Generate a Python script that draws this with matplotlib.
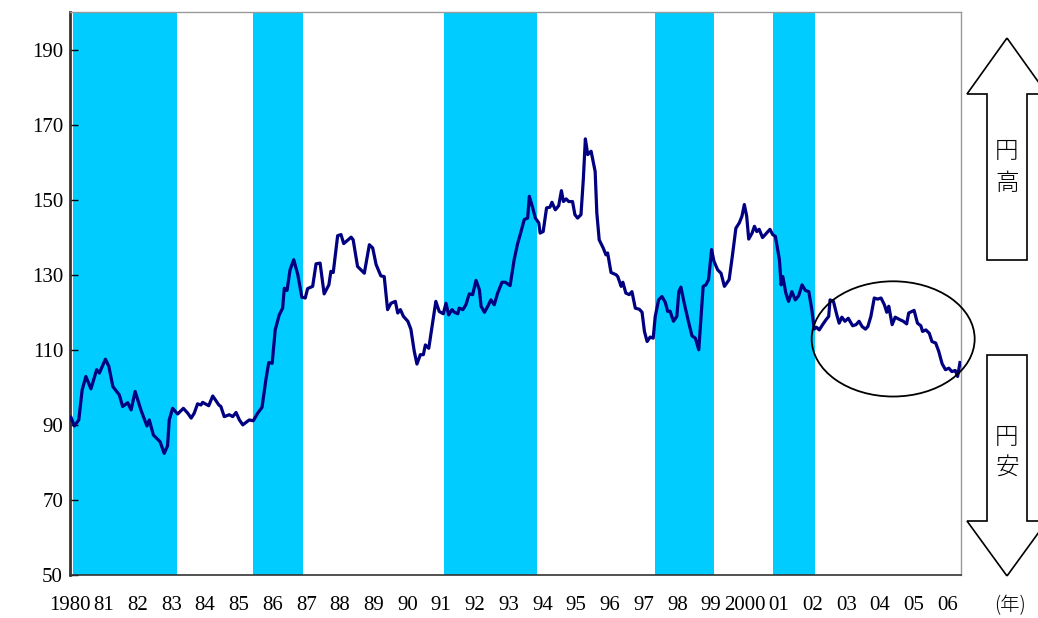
import matplotlib
matplotlib.use('Agg')
import matplotlib.pyplot as plt
from matplotlib.patches import Ellipse, Polygon

# yen index (decimal year, value)
years = [1980.03, 1980.13, 1980.26, 1980.36, 1980.47, 1980.62, 1980.79, 1980.87,
         1981.05, 1981.15, 1981.27, 1981.46, 1981.56, 1981.71, 1981.81, 1981.93,
         1982.10, 1982.28, 1982.35, 1982.47, 1982.67, 1982.79, 1982.89, 1982.94,
         1983.04, 1983.19, 1983.36, 1983.49, 1983.59, 1983.68, 1983.78, 1983.88, 1983.93,
         1984.11, 1984.23, 1984.41, 1984.47, 1984.57, 1984.72, 1984.82, 1984.92,
         1985.02, 1985.12, 1985.31, 1985.43, 1985.56, 1985.69, 1985.81, 1985.89, 1985.99,
         1986.08, 1986.20, 1986.30, 1986.35, 1986.43, 1986.52, 1986.63, 1986.75, 1986.87, 1986.97,
         1987.04, 1987.19, 1987.29, 1987.41, 1987.53, 1987.67, 1987.73, 1987.80, 1987.93,
         1988.03, 1988.11, 1988.33, 1988.39, 1988.52, 1988.72, 1988.87, 1988.97,
         1989.07, 1989.21, 1989.31, 1989.41, 1989.51, 1989.64, 1989.71, 1989.79, 1989.88,
         1990.01, 1990.10, 1990.20, 1990.28, 1990.38, 1990.47, 1990.53, 1990.63, 1990.75, 1990.84, 1990.94,
         1991.06, 1991.14, 1991.22, 1991.32, 1991.39, 1991.49, 1991.53, 1991.64, 1991.73, 1991.83, 1991.93,
         1992.03, 1992.13, 1992.18, 1992.28, 1992.38, 1992.47, 1992.57, 1992.67, 1992.80, 1992.90,
         1993.04, 1993.16, 1993.26, 1993.33, 1993.46, 1993.56, 1993.61, 1993.71, 1993.79, 1993.89, 1993.93,
         1994.02, 1994.12, 1994.22, 1994.28, 1994.38, 1994.48, 1994.56, 1994.62, 1994.70, 1994.78, 1994.89, 1994.96,
         1995.04, 1995.14, 1995.21, 1995.27, 1995.34, 1995.44, 1995.56, 1995.61, 1995.68, 1995.80, 1995.88, 1995.93,
         1996.03, 1996.18, 1996.23, 1996.33, 1996.38, 1996.47, 1996.57, 1996.65, 1996.75, 1996.87, 1996.95,
         1997.02, 1997.10, 1997.19, 1997.28, 1997.34, 1997.44, 1997.54, 1997.64, 1997.71, 1997.78, 1997.88, 1997.98,
         1998.04, 1998.10, 1998.20, 1998.33, 1998.43, 1998.53, 1998.63, 1998.70, 1998.76, 1998.84, 1998.92,
         1999.01, 1999.08, 1999.19, 1999.29, 1999.39, 1999.53, 1999.63, 1999.73, 1999.83, 1999.91, 1999.98,
         2000.05, 2000.11, 2000.21, 2000.28, 2000.35, 2000.42, 2000.52, 2000.64, 2000.74, 2000.82, 2000.90,
         2001.02, 2001.07, 2001.12, 2001.21, 2001.29, 2001.39, 2001.49, 2001.59, 2001.69, 2001.79, 2001.89, 2001.98,
         2002.05, 2002.12, 2002.20, 2002.30, 2002.40, 2002.48, 2002.52, 2002.62, 2002.72, 2002.79, 2002.87, 2002.96,
         2003.06, 2003.19, 2003.29, 2003.38, 2003.47, 2003.57, 2003.64, 2003.73, 2003.83, 2003.93,
         2004.03, 2004.13, 2004.20, 2004.26, 2004.36, 2004.45, 2004.55, 2004.69, 2004.79, 2004.85,
         2005.01, 2005.11, 2005.21, 2005.26, 2005.36, 2005.46, 2005.54, 2005.65, 2005.74, 2005.84, 2005.94,
         2006.04, 2006.13, 2006.23, 2006.30, 2006.37]
values = [92.0, 89.7, 91.3, 99.3, 102.9, 99.6, 104.7, 103.8,
          107.5, 105.6, 100.2, 98.0, 94.9, 95.9, 94.0, 98.9,
          94.0, 89.7, 91.3, 87.3, 85.5, 82.4, 84.4, 91.3,
          94.4, 92.9, 94.4, 93.1, 91.8, 93.1, 95.6, 95.3, 96.0,
          95.1, 97.7, 95.3, 94.9, 92.2, 92.7, 92.2, 93.3,
          91.3, 90.0, 91.3, 91.1, 93.1, 94.7, 102.4, 106.6, 106.4,
          115.3, 119.3, 121.1, 126.4, 125.8, 131.3, 134.0, 130.0, 124.0, 123.8,
          126.3, 126.9, 132.9, 133.1, 124.9, 127.3, 130.9, 130.6, 140.4,
          140.7, 138.3, 140.0, 139.3, 132.2, 130.4, 138.0, 137.1,
          132.7, 129.7, 129.5, 120.7, 122.4, 122.9, 119.8, 120.7, 118.9,
          117.6, 115.5, 109.6, 106.2, 108.7, 108.7, 111.3, 110.4, 117.6, 122.9, 120.2,
          119.6, 122.4, 119.3, 120.7, 120.0, 119.6, 121.1, 120.7, 122.0, 124.9, 124.7,
          128.5, 126.0, 121.6, 120.0, 121.6, 123.3, 122.0, 125.1, 128.0, 128.0,
          127.1, 134.0, 138.2, 140.4, 144.7, 145.1, 150.9, 147.8, 145.1, 143.8, 141.1,
          141.5, 147.8, 148.0, 149.3, 147.3, 148.4, 152.4, 149.5, 150.2, 149.5, 149.5, 146.0,
          145.1, 146.0, 155.5, 166.2, 162.0, 162.9, 157.5, 146.4, 139.3, 137.1, 135.3, 135.8,
          130.6, 130.0, 129.5, 126.9, 128.0, 125.1, 124.7, 125.5, 121.1, 120.8, 120.0,
          114.9, 112.2, 113.4, 113.1, 118.9, 123.3, 124.2, 122.6, 120.2, 120.3, 117.6, 118.9,
          125.5, 126.7, 122.4, 117.3, 113.7, 113.1, 110.0, 119.3, 126.9, 127.3, 128.7,
          136.7, 133.6, 131.3, 130.4, 126.9, 128.7, 135.3, 142.4, 143.8, 145.6, 148.7,
          145.6, 139.5, 141.1, 142.9, 141.5, 142.1, 139.9, 141.1, 142.1, 140.7, 140.2,
          134.0, 127.3, 129.5, 125.1, 122.9, 125.5, 123.3, 124.4, 127.3, 125.8, 125.5, 120.7,
          115.5, 116.0, 115.3, 116.7, 118.0, 118.9, 123.3, 122.9, 119.3, 117.1, 118.7, 117.6,
          118.4, 116.4, 116.7, 117.6, 116.2, 115.5, 116.2, 118.9, 123.8, 123.5,
          123.8, 122.0, 120.0, 121.6, 116.7, 118.7, 118.2, 117.6, 116.9, 119.8,
          120.5, 117.1, 116.4, 114.9, 115.3, 114.4, 112.2, 111.8, 109.6, 106.3, 104.7,
          105.1, 104.2, 104.5, 102.9, 106.6]

# shaded periods (start, end) in decimal years
band_start = [1980 + 1/12, 1985 + 5/12, 1991 + 1/12, 1997 + 4/12, 2000 + 10/12]
band_end = [1983 + 2/12, 1986 + 11/12, 1993 + 10/12, 1999 + 1/12, 2002 + 1/12]

tick_years = list(range(1980, 2007))
tick_labels = ['1980'] + ['%02d' % (y % 100) for y in range(1981, 2000)] + \
              ['2000'] + ['%02d' % (y % 100) for y in range(2001, 2007)]
yticks = [50, 70, 90, 110, 130, 150, 170, 190]

W, H = 1038, 618
fig = plt.figure(figsize=(W / 100, H / 100), dpi=100)
ax = fig.add_axes([70 / W, 1 - 575 / H, (961 - 70) / W, (575 - 12) / H])

for s, e in zip(band_start, band_end):
    ax.axvspan(s, e, color='#00ccff', lw=0, zorder=0)

ax.plot(years, values, color='#000080', lw=2.3, zorder=3)

ax.set_xlim(1980, 1980 + (961 - 70) / 33.75)
ax.set_ylim(50, 200)
ax.set_yticks(yticks)
ax.set_xticks(tick_years)
ax.set_xticklabels(tick_labels)
serif = 'Liberation Serif'
for lab in ax.get_xticklabels() + ax.get_yticklabels():
    lab.set_fontfamily(serif)
    lab.set_fontsize(15)
ax.tick_params(axis='x', length=0, pad=15)
ax.tick_params(axis='y', direction='in', length=6, width=1, pad=5)

ax.spines['left'].set_linewidth(2)
ax.spines['left'].set_color('#333333')
ax.spines['bottom'].set_color('#333333')
ax.spines['bottom'].set_linewidth(1.2)
for side in ('top', 'right'):
    ax.spines[side].set_color('#999999')
    ax.spines[side].set_linewidth(1)

# circle around recent period
ax.add_patch(Ellipse((2004.39, 112.9), 4.83, 30.7, fill=False, ec='black',
                     lw=1.3, clip_on=False, zorder=4))

# yen strong / weak arrows at the right
def px(x, y):
    return (x / W, 1 - y / H)

up = [px(1007, 38), px(1047, 94), px(1027, 94), px(1027, 260),
      px(987, 260), px(987, 94), px(967, 94)]
down = [px(1007, 576), px(1047, 521), px(1027, 521), px(1027, 355),
        px(987, 355), px(987, 521), px(967, 521)]
for pts in (up, down):
    fig.patches.append(Polygon(pts, closed=True, fill=False, ec='black', lw=1.2,
                               transform=fig.transFigure, figure=fig))

cjk = ['Noto Sans CJK JP', 'DejaVu Sans']
for ch, yy in (('円', 152), ('高', 183), ('円', 438), ('安', 468)):
    fig.text(1007 / W, 1 - yy / H, ch, family=cjk, fontsize=17,
             ha='center', va='center', fontweight='light')
fig.text(1010 / W, 1 - 606 / H, '(年)', family=cjk, fontsize=14,
         ha='center', va='center', fontweight='light')

fig.savefig('out.png', dpi=100)
